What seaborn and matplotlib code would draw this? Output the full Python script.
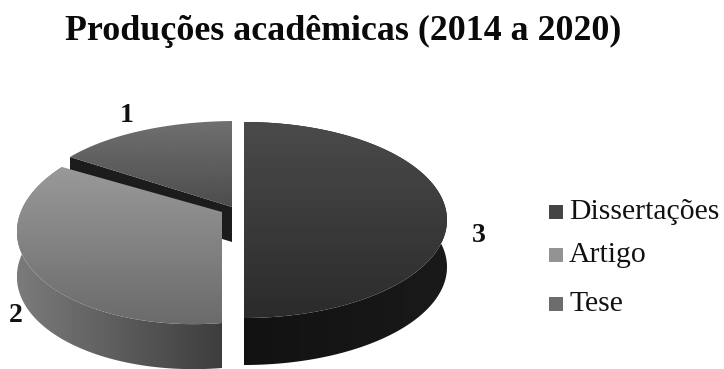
import matplotlib
matplotlib.use("Agg")
import matplotlib.pyplot as plt
import numpy as np
from matplotlib.patches import Rectangle, Polygon
import seaborn as sns

sns.set_theme(style="white")
plt.rcParams['font.family'] = ['Liberation Serif', 'DejaVu Sans']

categories = ["Dissertações", "Artigo", "Tese"]
values = [3, 2, 1]
legend_colors = ["#444444", "#939393", "#6c6c6c"]
title = "Produções acadêmicas (2014 a 2020)"

# per slice: top-face gradient (upper, lower), wall gradient (left, right)
top_grad = [(0.29, 0.17), (0.60, 0.42), (0.44, 0.30)]
wall_grad = [(0.07, 0.10), (0.48, 0.24), (0.11, 0.11)]

W, H = 724, 369
fig = plt.figure(figsize=(W/100, H/100), dpi=100, facecolor="white")
ax = fig.add_axes([0, 0, 1, 1])

# centre x, centre y (pixels from top), radius x, radius y, wall depth
geom = [(244, 220, 203, 98, 47), (222, 225, 204, 98, 45), (232, 207, 189, 86, 35)]
draw_order = [2, 1, 0]

def homography(src, dst):
    A = []
    for (x, y), (u, v) in zip(src, dst):
        A.append([x, y, 1, 0, 0, 0, -u*x, -u*y, -u])
        A.append([0, 0, 0, x, y, 1, -v*x, -v*y, -v])
    return np.linalg.svd(np.array(A))[2][-1].reshape(3, 3)

# perspective of two slices: unit-pie points -> pixels from the top
s60 = np.sqrt(3) / 2
persp = {
    1: homography([(0, 0), (0, -1), (-s60, 0.5), (-s60, -0.5)],
                  [(222, 212), (222, 323), (62, 167), (34, 272)]),
    2: homography([(0, 0), (0, 1), (-s60, 0.5), (-0.5, s60)],
                  [(232, 207), (232, 121), (70, 157), (140, 131)]),
}

def project(i, pts):
    cx, cy, rx, ry, _ = geom[i]
    if i in persp:
        p = np.c_[pts, np.ones(len(pts))] @ persp[i].T
        return np.c_[p[:, 0]/p[:, 2], H - p[:, 1]/p[:, 2]]
    return np.c_[cx + rx*pts[:, 0], H - cy + ry*pts[:, 1]]

wedges, _ = ax.pie(values, startangle=90, counterclock=False, radius=1.0,
                   center=(0, 0), frame=True)

z = 1
for i in draw_order:
    depth = geom[i][4]
    w = wedges[i]
    w.set_visible(False)
    th = np.deg2rad(np.linspace(w.theta1, w.theta2, 200))
    unit = np.c_[np.cos(th), np.sin(th)]
    arc = project(i, unit)
    tip = project(i, np.zeros((1, 2)))[0]
    if i == 2:
        left = arc[np.argmin(arc[:, 0])]
        wall = np.array([left, tip, tip - [0, depth], left - [0, depth]])
    else:
        wall = np.r_[arc, (arc - [0, depth])[::-1]]
    wp = Polygon(wall, closed=True, fc="none", ec="none", zorder=z)
    ax.add_patch(wp)
    arr = np.linspace(wall_grad[i][0], wall_grad[i][1], 64).reshape(1, -1)
    im = ax.imshow(arr, extent=(wall[:, 0].min(), wall[:, 0].max(), wall[:, 1].min(), wall[:, 1].max()),
                   origin="lower", cmap="gray", vmin=0, vmax=1, aspect="auto", zorder=z,
                   interpolation="bilinear")
    im.set_clip_path(wp)
    z += 1
    face = np.r_[[tip], arc]
    fp = Polygon(face, closed=True, fc="none", ec="none", zorder=z)
    ax.add_patch(fp)
    arr = np.linspace(top_grad[i][1], top_grad[i][0], 64).reshape(-1, 1)
    im2 = ax.imshow(arr, extent=(face[:, 0].min(), face[:, 0].max(), face[:, 1].min(), face[:, 1].max()),
                    origin="lower", cmap="gray", vmin=0, vmax=1, aspect="auto", zorder=z,
                    interpolation="bilinear")
    im2.set_clip_path(fp)
    z += 1

ax.set_aspect('auto')
ax.set_xlim(0, W)
ax.set_ylim(0, H)
ax.axis("off")

ax.text(343, H-31, title, ha="center", va="center", fontsize=25.8, fontweight="bold", color="#0a0a0a", zorder=20)

label_pos = [(479, 235), (16, 316), (127, 115)]
for v, (x, y) in zip(values, label_pos):
    ax.text(x, H-y, str(v), ha="center", va="center", fontsize=20, fontweight="bold", color="#111111", zorder=20)

legend_y = [212, 255, 304]
for name, y, c in zip(categories, legend_y, legend_colors):
    ax.add_patch(Rectangle((549, H-y-7), 14, 14, color=c, lw=0, zorder=20))
    ax.text(569, H-y, name, ha="left", va="center", fontsize=21.4, color="#111111", zorder=20)

fig.savefig("out.png", dpi=100, facecolor="white")
